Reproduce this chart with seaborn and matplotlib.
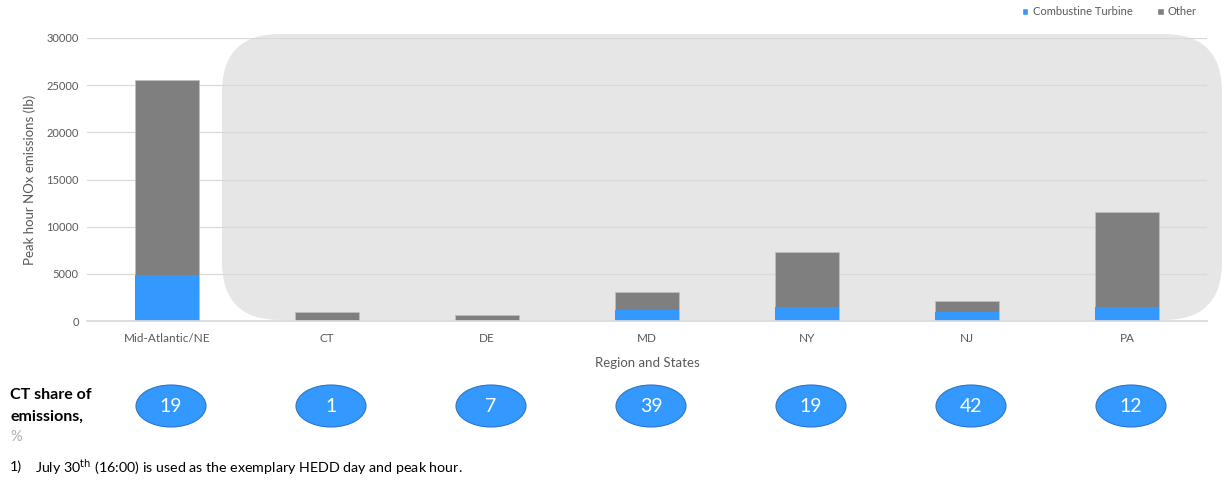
import matplotlib
matplotlib.use("Agg")
import matplotlib.pyplot as plt
import matplotlib.transforms as mtransforms
from matplotlib.patches import FancyBboxPatch, Ellipse, Patch
import seaborn as sns
import pandas as pd
import numpy as np

categories = ["Mid-Atlantic/NE", "CT", "DE", "MD", "NY", "NJ", "PA"]
total_lb = [25600, 950, 640, 3050, 7350, 2150, 11520]
ct_lb = [4900, 10, 45, 1200, 1450, 910, 1450]
ct_share = [19, 1, 7, 39, 19, 42, 12]
yticks = [0, 5000, 10000, 15000, 20000, 25000, 30000]

BLUE = "#3399ff"
GRAY = "#7f7f7f"
TXT = "#595959"

sns.set_theme(style="white")
plt.rcParams["font.family"] = ["Lato", "DejaVu Sans"]

df = pd.DataFrame({"cat": categories, "total": total_lb, "ct": ct_lb})

W, H = 1225, 480
fig = plt.figure(figsize=(12.25, 4.8), dpi=100)
ax = fig.add_axes([87/W, 1-321/H, (1207-87)/W, (321-38)/H])
ax.set_facecolor("none")

# rounded gray highlight behind the states
rect = FancyBboxPatch((222/W, 1-320/H), 1000/W, 286/H,
                      boxstyle="round,pad=0,rounding_size=%f" % (58/W),
                      mutation_aspect=W/H,
                      transform=fig.transFigure, facecolor="#e6e6e6",
                      edgecolor="none", zorder=-5)
fig.patches.append(rect)

sns.barplot(data=df, x="cat", y="total", color=GRAY, width=0.4, ax=ax,
            saturation=1, edgecolor="#bfbfbf", linewidth=0.6, zorder=3)
sns.barplot(data=df, x="cat", y="ct", color=BLUE, width=0.4, ax=ax,
            saturation=1, edgecolor="none", linewidth=0, zorder=4)

ax.set_ylim(0, 30000)
ax.set_xlim(-0.5, len(categories) - 0.5)
ax.set_yticks(yticks)
ax.set_yticklabels([str(v) for v in yticks], fontsize=8, color=TXT)
ax.yaxis.grid(True, color="#d9d9d9", linewidth=0.9, zorder=0)
ax.set_axisbelow(True)
for s in ["top", "right", "left"]:
    ax.spines[s].set_visible(False)
ax.spines["bottom"].set_color("#d9d9d9")
ax.spines["bottom"].set_zorder(5)
ax.tick_params(axis="x", length=0, labelsize=8.5, labelcolor=TXT, pad=9)
ax.tick_params(axis="y", length=0, pad=6)
ax.set_xticks(np.arange(-0.5, len(categories) + 0.5, 1), minor=True)
ax.tick_params(axis="x", which="minor", length=5, color="#d9d9d9", direction="out")
ax.set_xlabel("Region and States", fontsize=9.5, color=TXT, labelpad=9)
ax.set_ylabel("Peak hour NOx emissions (lb)", fontsize=9.5, color=TXT, labelpad=7)

# legend
handles = [Patch(facecolor=BLUE, label="Combustine Turbine"),
           Patch(facecolor=GRAY, label="Other")]
fig.legend(handles=handles, loc="upper right", bbox_to_anchor=(1207/W, 1.008),
           ncol=2, frameon=False, fontsize=8, handlelength=0.6, handleheight=0.6,
           handletextpad=0.4, columnspacing=2.2, labelcolor=TXT)

# CT share ellipses
bt = mtransforms.blended_transform_factory(ax.transData, fig.transFigure)
yc = 1 - 406/H
dx = 4/160
for i, v in enumerate(ct_share):
    e = Ellipse((i + dx, yc), 70/160, 42/H, transform=bt, facecolor=BLUE,
                edgecolor="#2e75c7", linewidth=0.8, clip_on=False)
    fig.patches.append(e)
    t = fig.text(0, yc, str(v), transform=bt, ha="center", va="center",
                 color="white", fontsize=14)
    t.set_x(i + dx)

fig.text(10/W, 1-395/H, "CT share of", fontsize=11.5, fontweight="bold",
         color="black", va="center", ha="left")
fig.text(10/W, 1-417/H, "emissions,", fontsize=11.5, fontweight="bold",
         color="black", va="center", ha="left")
fig.text(10/W, 1-437/H, "%", fontsize=10.5, color="#b0b0b0", va="center", ha="left")

fig.text(10/W, 1-467/H, "1)", fontsize=10.3, color="black", va="center", ha="left")
fig.text(35/W, 1-467/H, r"July 30$^{\mathrm{th}}$ (16:00) is used as the exemplary HEDD day and peak hour.",
         fontsize=10.3, color="black", va="center", ha="left")

fig.savefig("out.png", dpi=100)
